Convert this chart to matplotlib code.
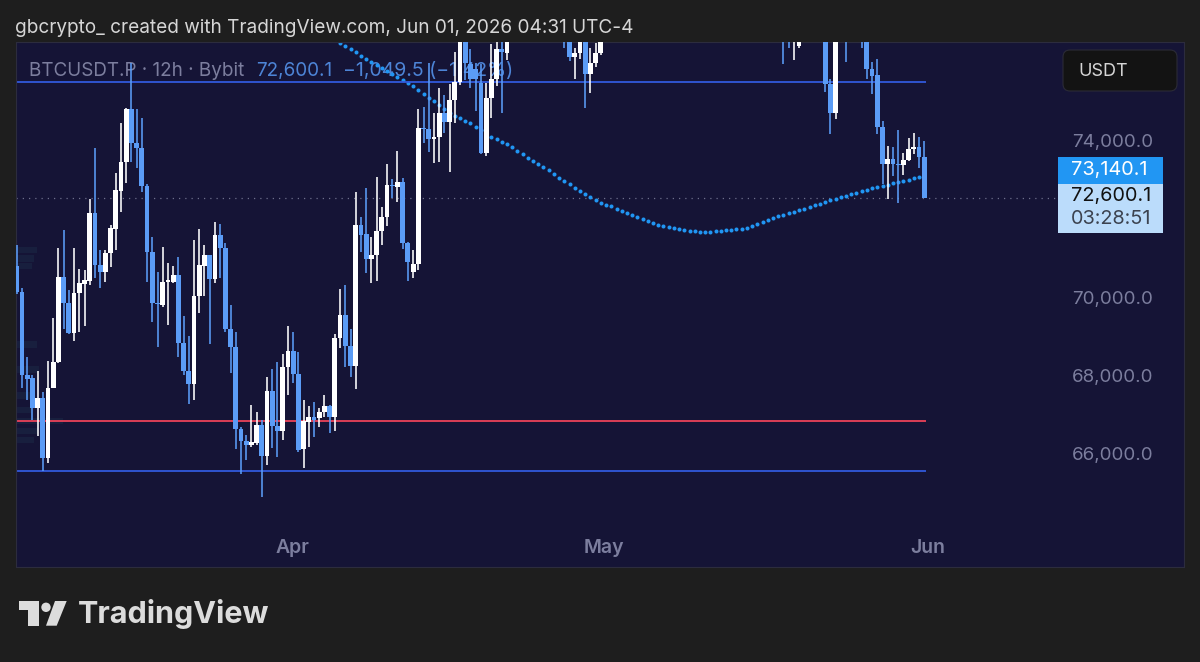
import numpy as np
import matplotlib
matplotlib.use("Agg")
import matplotlib.pyplot as plt
from matplotlib.patches import FancyBboxPatch, Polygon, Circle, Rectangle
from matplotlib.transforms import Affine2D, ScaledTranslation

plt.rcParams['font.family'] = ['Inter', 'DejaVu Sans']

# 12h candles. Those above the top edge are rough estimates
opens = [70850,70190,68070,68000,67220,67480,65940,67730,68400,70570,69910,69140,70170,70390,70470,72210,70880,70700,71190,71800,
         72770,73510,74870,74000,73870,72900,71210,69910,69860,70450,70450,70620,68890,68170,67840,70090,70850,71140,70520,71650,
         71310,69240,68780,66680,66380,66280,66330,66790,66000,67660,66760,66630,68270,68680,68090,66170,66860,66990,66970,67120,
         67270,66990,69010,69600,68810,68300,71900,71670,71030,71140,71750,72110,72930,72880,73000,71440,70700,70910,74380,74360,
         74100,74150,74770,74540,75100,75560,76700,76020,75890,75530,73740,75150,75640,76400,76300,76700,77050,77400,77250,77500,
         77900,77700,77450,77300,77100,76950,76800,76200,76300,76800,75760,76050,76300,76800,77100,77400,77700,78000,77900,78100,
         78600,79000,78800,78500,78700,79200,79500,79200,78900,78500,78100,78400,78200,77800,78000,77700,77500,77700,78000,77800,
         77400,77600,77500,77200,77400,77300,77100,77300,76900,76700,76480,77000,77200,77300,77100,76900,75510,74770,77100,77000,
         76700,76900,76800,76900,75890,75740,74410,73460,73590,73460,73440,73570,73850,73900,73640]
highs = [71390,70290,68530,68070,68170,67630,68420,69520,71310,71775,70240,71310,70780,70750,72570,73870,71260,71260,71900,73230,
         74510,74900,76050,74870,74640,72950,71600,70700,71340,70930,70850,71080,69580,69060,71520,71800,71390,71140,71980,71930,
         71440,69860,69170,66740,66530,67300,67120,66915,68020,68220,68400,68600,69320,69170,68650,67430,67270,67380,67220,67550,
         67300,69110,70270,70370,69240,72750,72110,72850,71600,73130,72360,73460,73080,73800,73100,71470,71260,74870,74920,76050,
         74770,75410,75230,75510,76330,76890,76800,76400,76050,76020,75530,76530,76690,76740,76760,77200,77600,77800,77700,78100,
         78300,78000,77900,77600,77400,77200,76900,76430,77000,77100,76430,76560,77000,77300,77500,77900,78200,78500,78300,78800,
         79200,79500,79300,78900,79400,79800,80000,79600,79300,78800,78600,78900,78500,78300,78400,78100,77900,78200,78300,78100,
         77800,78000,77800,77600,77700,77600,77500,77600,77300,77200,77300,77500,77600,77700,77400,77200,75640,77300,77400,77300,
         77100,77200,77100,77000,76070,76150,74560,73920,73900,74330,73750,74130,74260,74150,74050]
lows = [70140,67730,67430,66915,66510,65610,65820,67730,68370,69240,69110,68940,69170,69320,70370,70550,70290,70450,70830,71260,
        72240,72980,73510,73360,72750,70450,69420,68780,69800,69340,70420,68530,68070,67320,67430,69650,70090,68860,70420,70550,
        69170,68120,66170,65530,65890,66220,66280,64950,65770,66200,65970,66400,67550,67860,66100,65690,66220,66480,66740,66990,
        66580,66630,68760,68270,68020,67710,71210,70680,70420,70470,71390,71880,72590,72490,71290,70470,70550,70750,74000,73770,
        73490,73510,74250,73260,74510,75480,75610,75410,74820,73720,73670,74640,75460,74770,76120,76650,76900,77100,77000,77300,
        77500,77300,77100,76900,76800,76430,76100,75640,76150,74900,75280,75940,76250,76700,76900,77200,77500,77700,77500,77900,
        78300,78600,78400,78100,78500,78900,79000,78700,78300,77900,77700,78000,77600,77400,77500,77300,77100,77400,77600,77200,
        77000,77300,77000,76900,77000,76900,76800,76020,76430,76120,76440,76800,76900,77000,76800,75300,74230,74610,76800,76070,
        76650,76650,76430,75640,75250,74230,72950,72570,73160,72470,73180,73540,73720,73360,72600]
closes = [70190,68070,67970,67220,67480,65940,67730,68400,70570,69910,69140,70170,70420,70500,72210,70880,70700,71190,71830,72800,
          73510,74870,74000,73870,72900,71210,69910,69880,70450,70500,70620,68890,68170,67840,70090,70880,71140,70520,71650,71310,
          69240,68780,66680,66380,66280,66350,66790,66000,67660,66760,66630,68270,68680,68090,66150,66890,66990,66915,67120,67270,
          66990,69010,69600,68810,68300,71900,71650,71030,71140,71750,72110,72930,72900,73000,71440,70960,70910,74380,74360,74100,
          74150,74770,74540,75100,75560,76760,76050,75640,75640,73740,75150,75640,76400,76330,76690,77050,77400,77250,77500,77900,
          77700,77450,77300,77100,76950,76650,76200,76300,76800,75760,76050,76300,76800,77100,77400,77700,78000,77900,78100,78600,
          79000,78800,78500,78700,79200,79500,79200,78900,78500,78100,78400,78200,77800,78000,77700,77500,77700,78000,77800,77400,
          77600,77500,77200,77400,77300,77100,77300,76900,76700,77000,77000,77200,77300,77100,76900,75510,74770,77100,77000,76700,
          76900,76800,76650,75890,75710,74410,73460,73590,73460,73440,73570,73850,73900,73640,72600]

# dotted moving average, one value per candle from candle 62 on
ma_first = 62
ma_values = [76560,76480,76400,76330,76225,76150,76070,75995,75920,75840,75765,75690,75610,75535,75460,75355,75250,75150,75075,74970,
             74870,74770,74690,74640,74560,74510,74410,74330,74230,74150,74100,74025,73975,73900,73795,73720,73615,73540,73460,73385,
             73310,73205,73105,73030,72950,72850,72770,72695,72620,72540,72465,72410,72390,72310,72260,72210,72160,72110,72055,72005,
             71955,71900,71875,71850,71825,71800,71775,71750,71750,71725,71725,71725,71750,71750,71775,71775,71800,71800,71825,71875,
             71930,71980,72030,72080,72135,72160,72210,72235,72285,72310,72365,72410,72440,72490,72540,72570,72620,72645,72695,72720,
             72770,72800,72850,72875,72900,72925,72980,73000,73030,73055,73105,73130]

level_top = 75560
level_red = 66890
level_low = 65610
last_price = 72600.1

price_ticks = [66000, 68000, 70000, 72000, 74000]
price_labels = ['66,000.0', '68,000.0', '70,000.0', '', '74,000.0']
date_ticks = [52.8, 112.6, 174.6]
date_labels = ['Apr', 'May', 'Jun']

# faint heatmap smudges at the left edge
smudge_prices = [71260, 71050, 70850, 68840, 68200, 67550, 67170, 66890, 66630, 66400]
smudge_widths = [4.0, 3.5, 3.0, 4.0, 4.5, 3.5, 3.0, 9.0, 4.0, 3.5]

PANEL = '#151436'
OUTER = '#1e1e1e'
CANDLE_UP = '#ffffff'
CANDLE_DOWN = '#5b9cf6'
GREY = '#7c7e9e'

fig = plt.figure(figsize=(12, 6.62), dpi=100, facecolor=OUTER)
px = Affine2D().scale(1, -1).translate(0, 662)
ax = fig.add_axes([16 / 1200, (662 - 566.5) / 662, 1168 / 1200, 524.5 / 662], facecolor=PANEL)

idx = np.arange(len(opens))
o = np.array(opens, float)
h = np.array(highs, float)
l = np.array(lows, float)
c = np.array(closes, float)
up = c >= o

ax.barh(smudge_prices, smudge_widths, height=170, left=-0.13, color='#2f6f78', alpha=0.13, zorder=1)
ax.axhline(last_price, xmax=1042 / 1168, color='#6d6f8c', lw=0.9, ls=(0, (1, 4)), zorder=1)

ma_x = np.arange(ma_first, ma_first + len(ma_values))
ax.plot(ma_x, ma_values, ls='none', marker='o', ms=2.9, mew=0, color='#2196f3', zorder=2)

xend = 174.3
ax.hlines([level_top, level_low], -0.13, xend, color='#3159dc', lw=1.3, zorder=2)
ax.hlines(level_red, -0.13, xend, color='#ea4259', lw=1.3, zorder=2)

ax.vlines(idx[up], l[up], h[up], color=CANDLE_UP, lw=1.15, zorder=3)
ax.vlines(idx[~up], l[~up], h[~up], color=CANDLE_DOWN, lw=1.15, zorder=3)
ax.bar(idx[~up], (o - c)[~up], bottom=c[~up], width=0.92, color=CANDLE_DOWN, zorder=3)
ax.bar(idx[up], (c - o)[up], bottom=o[up], width=0.92, color=CANDLE_UP, zorder=3)

ax.set_xlim(-0.134, 223.8)
ax.set_ylim(63169, 76583)
ax.yaxis.tick_right()
ax.set_yticks(price_ticks)
ax.set_yticklabels(price_labels)
ax.set_xticks(date_ticks)
ax.set_xticklabels(date_labels)
ax.tick_params(axis='y', length=0, pad=-80.5, labelsize=13.5, labelcolor=GREY)
ax.tick_params(axis='x', length=0, pad=-20, labelsize=14, labelcolor=GREY)
for lab in ax.get_xticklabels():
    lab.set_fontweight('semibold')
# the scale labels sit a little above their price
nudge = ScaledTranslation(0, 2 / 100, fig.dpi_scale_trans)
for lab in ax.get_yticklabels():
    lab.set_transform(lab.get_transform() + nudge)
for s in ax.spines.values():
    s.set_color('#2c2c3e')
    s.set_linewidth(0.8)

# legend sits under the candles
ax.text(29, 71, 'BTCUSDT.P · 12h · Bybit', transform=px, color=GREY, fontsize=13.6, va='center', zorder=1.5)
ax.text(256, 71, '72,600.1', transform=px, color='#4d84d6', fontsize=13.6, va='center', zorder=1.5)
ax.text(343, 71, '−1,049.5 (−1.42%)', transform=px, color='#4d84d6', fontsize=14, va='center', zorder=1.5)

fig.text(15, 28, 'gbcrypto_ created with TradingView.com, Jun 01, 2026 04:31 UTC-4', transform=px,
         color='#d6d6d6', fontsize=13.7, va='center')

# USDT box
fig.add_artist(FancyBboxPatch((1063, 50), 114, 41, boxstyle='round,pad=0,rounding_size=7', transform=px,
                              fc='#131313', ec='#2b2b36', lw=0.8))
fig.text(1078, 71, 'USDT', transform=px, color='#d6d6d6', fontsize=13, va='center')

# price labels on the scale
fig.add_artist(Rectangle((1058, 157), 105, 27, transform=px, fc='#2196f3', ec='none'))
fig.add_artist(Rectangle((1058, 184), 105, 49, transform=px, fc='#bbdcfb', ec='none'))
fig.text(1071, 170, '73,140.1', transform=px, color='#ffffff', fontsize=14.3, va='center')
fig.text(1071, 196, '72,600.1', transform=px, color='#111111', fontsize=14.3, va='center')
fig.text(1071, 219, '03:28:51', transform=px, color='#3c4350', fontsize=14.3, va='center')

# TradingView logo
logo = '#dcdcdc'
fig.add_artist(Polygon([(19.3, 601), (39.3, 601), (39.3, 625.7), (28.3, 625.7), (28.3, 610), (19.3, 610)],
                       closed=True, transform=px, fc=logo, ec='none'))
fig.add_artist(Circle((46, 607.3), 4.7, transform=px, fc=logo, ec='none'))
fig.add_artist(Polygon([(55, 601), (66.7, 601), (56.7, 625.7), (46, 625.7)], closed=True, transform=px, fc=logo, ec='none'))
fig.text(78, 614, 'TradingView', transform=px, color=logo, fontsize=22, fontweight='bold', va='center')

fig.savefig('out.png', dpi=100, facecolor=OUTER)
